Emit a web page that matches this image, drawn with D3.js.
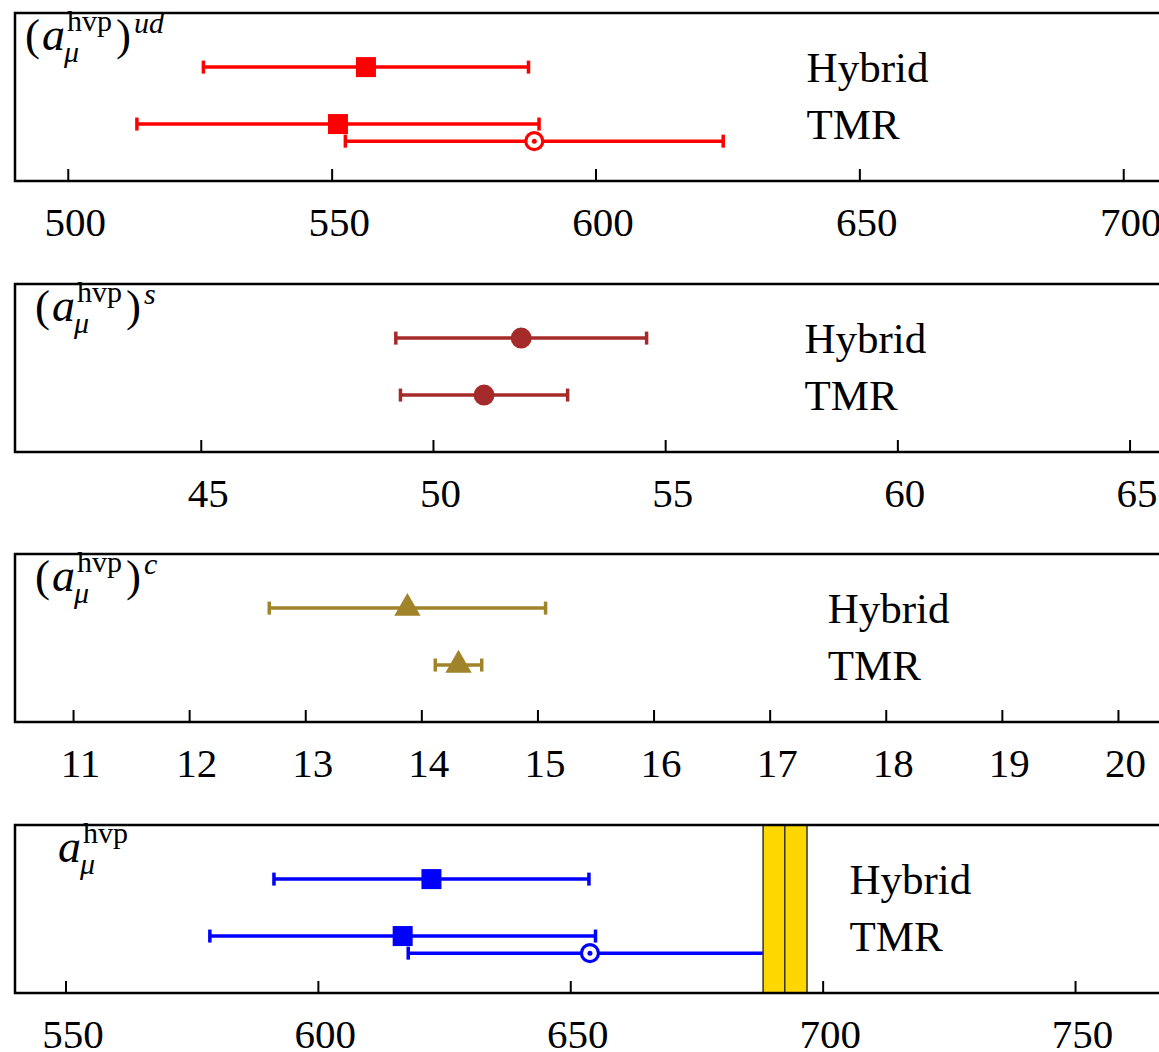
<!DOCTYPE html>
<html>
<head>
<meta charset="utf-8">
<script src="https://cdn.jsdelivr.net/npm/d3@7"></script>
<style>
  body { margin: 0; background: #fff; overflow: hidden; }
  text { font-family: "Liberation Serif", "DejaVu Serif", serif; }
</style>
</head>
<body>
<div id="chart"></div>
<script>
// values
var rowNames = ['Hybrid', 'TMR'];
var rowLevels = [2, 1, 0.7];

var udCenters = [556.5, 551.2, 588.4];
var udErrs = [30.8, 38.1, 35.8];
var udTicks = [500, 550, 600, 650, 700];

var sCenters = [51.9, 51.1];
var sErrs = [2.7, 1.8];
var sTicks = [45, 50, 55, 60, 65];

var cCenters = [13.88, 14.32];
var cErrs = [1.19, 0.2];
var cTicks = [11, 12, 13, 14, 15, 16, 17, 18, 19, 20];

var totCenters = [622.5, 616.8, 653.9];
var totErrs = [31.2, 38.2, 36.0];
var totTicks = [550, 600, 650, 700, 750];

var expBand = [688.2, 692.5, 696.9];   // low, central, high

var col_red    = '#ff0000';
var col_brown  = '#a52a2a';
var col_olive  = '#a1832a';
var col_blue   = '#0000ff';
var col_gold   = '#ffd700';

var width = 1159, height = 1052;
var left = 15, right = 1176;
var panelH = 168;

var panels = [
    {top: 13,  domain: [490, 710],   ticks: udTicks,  centers: udCenters,  errs: udErrs,  color: col_red,
     marks: ['square', 'square', 'open'], textX: 640,  labelX: 25, paren: true, sup: 'ud'},
    {top: 284, domain: [41, 66],     ticks: sTicks,   centers: sCenters,   errs: sErrs,   color: col_brown,
     marks: ['circle', 'circle'], textX: 58.0, labelX: 35, paren: true, sup: 's'},
    {top: 554, domain: [10.5, 20.5], ticks: cTicks,   centers: cCenters,   errs: cErrs,   color: col_olive,
     marks: ['triangle', 'triangle'], textX: 17.5, labelX: 35, paren: true, sup: 'c'},
    {top: 825, domain: [540, 770],   ticks: totTicks, centers: totCenters, errs: totErrs, color: col_blue,
     marks: ['square', 'square', 'open'], textX: 705.3, labelX: 58, paren: false, sup: '', band: expBand}
];

var svg = d3.select('#chart').append('svg')
    .attr('width', width)
    .attr('height', height);

var y = d3.scaleLinear().domain([0, 2.95]).range([panelH, 0]);

// (a_mu^hvp)^x label, built from pieces
function drawLabel(g, x0, paren, sup) {
    var t = g.append('g').attr('transform', 'translate(' + x0 + ',37)');
    var cx = 0;
    if (paren) {
        var p = t.append('text').attr('x', cx).attr('font-size', 45).text('(');
        cx += p.node().getComputedTextLength() + 2;
    }
    var a = t.append('text').attr('x', cx).attr('font-size', 46)
        .style('font-style', 'italic').text('a');
    cx += a.node().getComputedTextLength() + 2;
    var hv = t.append('text').attr('x', cx).attr('y', -19).attr('font-size', 30).text('hvp');
    var mu = t.append('text').attr('x', cx - 3).attr('y', 12).attr('font-size', 30)
        .style('font-style', 'italic').text('μ');
    cx += Math.max(hv.node().getComputedTextLength(), mu.node().getComputedTextLength() - 3) + 4;
    if (paren) {
        var q = t.append('text').attr('x', cx).attr('font-size', 45).text(')');
        cx += q.node().getComputedTextLength() + 3;
        t.append('text').attr('x', cx).attr('y', -17).attr('font-size', 30)
            .style('font-style', 'italic').text(sup);
    }
}

panels.forEach(function(pn) {
    var x = d3.scaleLinear().domain(pn.domain).range([left, right]);
    var g = svg.append('g').attr('transform', 'translate(0,' + pn.top + ')');

    // axis with inward ticks
    var ax = g.append('g')
        .attr('transform', 'translate(0,' + panelH + ')')
        .call(d3.axisBottom(x).tickValues(pn.ticks).tickSizeInner(-12).tickSizeOuter(0).tickPadding(26));
    ax.attr('font-family', null);
    ax.select('.domain').remove();
    ax.selectAll('.tick line').attr('stroke', '#000').attr('stroke-width', 2);
    ax.selectAll('.tick text')
        .attr('font-size', 41)
        .attr('fill', '#000')
        .attr('dx', 7);

    var idx = d3.range(pn.centers.length);

    // error bars
    idx.forEach(function(i) {
        var yy = y(rowLevels[i]);
        var x0 = x(pn.centers[i] - pn.errs[i]);
        var x1 = x(pn.centers[i] + pn.errs[i]);
        g.append('line').attr('x1', x0).attr('x2', x1).attr('y1', yy).attr('y2', yy)
            .attr('stroke', pn.color).attr('stroke-width', 3.5);
        [x0, x1].forEach(function(cxp) {
            g.append('line').attr('x1', cxp).attr('x2', cxp).attr('y1', yy - 6.5).attr('y2', yy + 6.5)
                .attr('stroke', pn.color).attr('stroke-width', 3.5);
        });
    });

    // markers
    idx.forEach(function(i) {
        var yy = y(rowLevels[i]);
        var xx = x(pn.centers[i]);
        var m = pn.marks[i];
        if (m === 'square') {
            g.append('rect').attr('x', xx - 10).attr('y', yy - 10)
                .attr('width', 20).attr('height', 20).attr('fill', pn.color);
        } else if (m === 'circle') {
            g.append('circle').attr('cx', xx).attr('cy', yy).attr('r', 10.5).attr('fill', pn.color);
        } else if (m === 'triangle') {
            g.append('path').attr('d', d3.symbol(d3.symbolTriangle, 300)())
                .attr('transform', 'translate(' + xx + ',' + yy + ')')
                .attr('fill', pn.color);
        } else if (m === 'open') {
            g.append('circle').attr('cx', xx).attr('cy', yy).attr('r', 8.5)
                .attr('fill', '#fff').attr('stroke', pn.color).attr('stroke-width', 3.2);
            g.append('circle').attr('cx', xx).attr('cy', yy).attr('r', 2.5).attr('fill', pn.color);
        }
    });

    // experimental band
    if (pn.band) {
        g.append('rect')
            .attr('x', x(pn.band[0])).attr('y', 0)
            .attr('width', x(pn.band[2]) - x(pn.band[0])).attr('height', panelH)
            .attr('fill', col_gold).attr('stroke', '#333').attr('stroke-width', 1.5);
        g.append('line')
            .attr('x1', x(pn.band[1])).attr('x2', x(pn.band[1]))
            .attr('y1', 0).attr('y2', panelH)
            .attr('stroke', '#333').attr('stroke-width', 1.5);
    }

    // row labels
    rowNames.forEach(function(nm, i) {
        g.append('text')
            .attr('x', x(pn.textX))
            .attr('y', y(rowLevels[i]))
            .attr('dy', '0.35em')
            .attr('font-size', 43)
            .attr('fill', '#000')
            .text(nm);
    });

    // frame
    g.append('rect').attr('x', left).attr('y', 0)
        .attr('width', right - left).attr('height', panelH)
        .attr('fill', 'none').attr('stroke', '#000').attr('stroke-width', 2.5);

    drawLabel(g, pn.labelX, pn.paren, pn.sup);
});
</script>
</body>
</html>
